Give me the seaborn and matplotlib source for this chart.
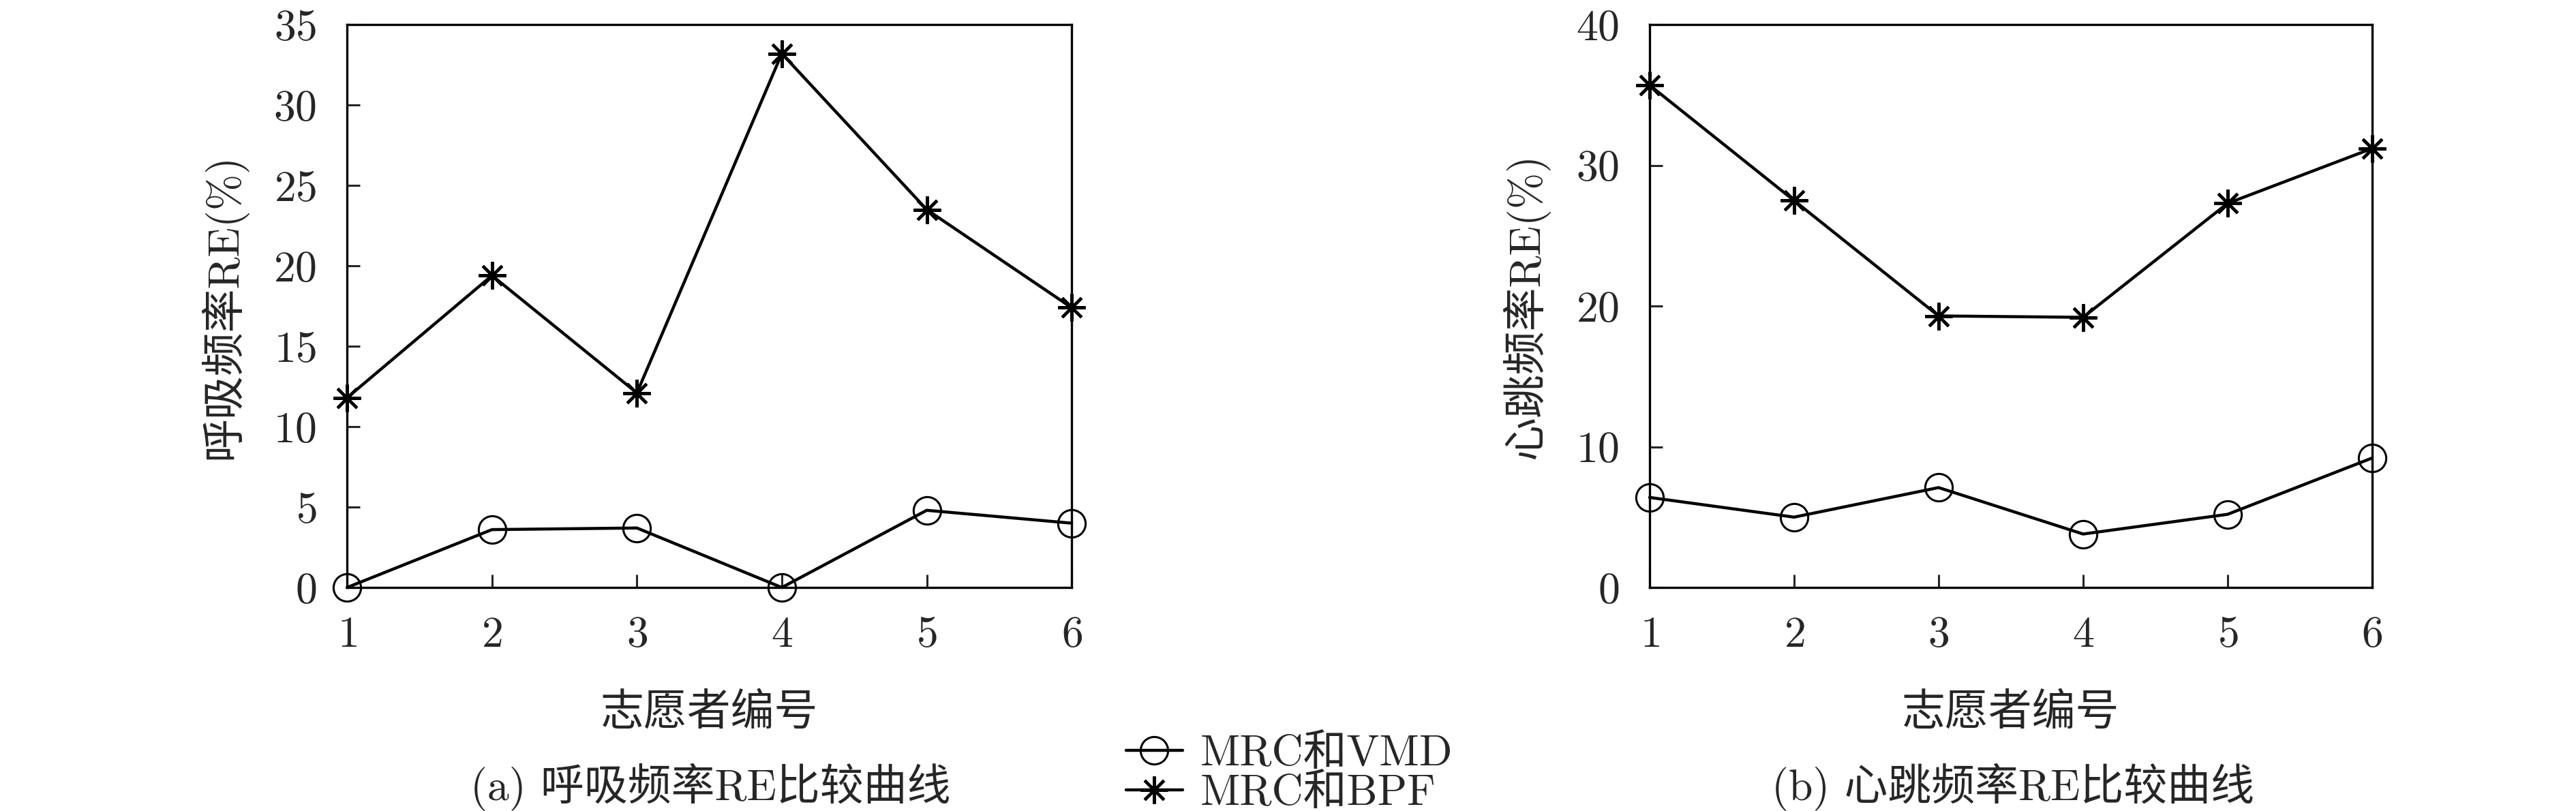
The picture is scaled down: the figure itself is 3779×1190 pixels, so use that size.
import numpy as np
import pandas as pd
import matplotlib
matplotlib.use('Agg')
import matplotlib.pyplot as plt
import seaborn as sns

# data
volunteers = [1, 2, 3, 4, 5, 6]
resp_vmd = [0.0, 3.6, 3.7, 0.0, 4.8, 4.0]
resp_bpf = [11.8, 19.4, 12.1, 33.2, 23.5, 17.4]
heart_vmd = [6.4, 5.0, 7.1, 3.8, 5.2, 9.2]
heart_bpf = [35.7, 27.5, 19.3, 19.2, 27.3, 31.2]

label_vmd = 'MRC和VMD'
label_bpf = 'MRC和BPF'
xlabel = '志愿者编号'
ylabel_a = '呼吸频率RE(%)'
ylabel_b = '心跳频率RE(%)'
caption_a = '(a) 呼吸频率RE比较曲线'
caption_b = '(b) 心跳频率RE比较曲线'

sns.set_style('ticks')
plt.rcParams['font.family'] = ['cmr10', 'Noto Sans CJK SC']
plt.rcParams['axes.formatter.use_mathtext'] = True
plt.rcParams['font.size'] = 46

fig = plt.figure(figsize=(37.8, 11.9), dpi=100)
ax_a = fig.add_axes([0.1347, 0.2756, 0.2812, 0.694])
ax_b = fig.add_axes([0.6402, 0.2756, 0.2804, 0.694])

circle_kw = dict(color='black', linewidth=3.2, marker='o', markersize=29,
                 markerfacecolor='none', markeredgecolor='black',
                 markeredgewidth=2.2, clip_on=False)
star_kw = dict(color='black', linewidth=3.2, marker=(8, 2, 0), markersize=29,
               markeredgecolor='black', markeredgewidth=3.0, clip_on=False)


def panel(ax, vmd, bpf, ylabel, ymax, ystep):
    sns.lineplot(x=volunteers, y=vmd, ax=ax, label=label_vmd, **circle_kw)
    sns.lineplot(x=volunteers, y=bpf, ax=ax, label=label_bpf, **star_kw)
    ax.set_xlim(1, 6)
    ax.set_ylim(0, ymax)
    ax.set_xticks(volunteers)
    ax.set_yticks(np.arange(0, ymax + 1, ystep))
    ax.tick_params(direction='in', length=14, width=2.2, labelsize=46)
    ax.tick_params(axis='x', pad=30)
    ax.tick_params(axis='y', pad=32)
    for s in ax.spines.values():
        s.set_linewidth(2.4)
        s.set_color('black')
    ax.set_xlabel(xlabel, fontsize=46, labelpad=40)
    ax.set_ylabel(ylabel, fontsize=46, labelpad=28)
    ax.get_legend().remove()


panel(ax_a, resp_vmd, resp_bpf, ylabel_a, 35, 5)
panel(ax_b, heart_vmd, heart_bpf, ylabel_b, 40, 10)

handles, labels = ax_a.get_legend_handles_labels()
fig.legend(handles, labels, loc='upper left', bbox_to_anchor=(0.437, 0.094),
           frameon=False, fontsize=46, handlelength=1.3, handletextpad=0.4,
           labelspacing=0.0, borderaxespad=0, borderpad=0)

fig.text(1042 / 3780, 1 - 1155 / 1190, caption_a, ha='center', va='center', fontsize=46)
fig.text(2953 / 3780, 1 - 1155 / 1190, caption_b, ha='center', va='center', fontsize=46)

fig.savefig('out.png', dpi=100, facecolor='white')
